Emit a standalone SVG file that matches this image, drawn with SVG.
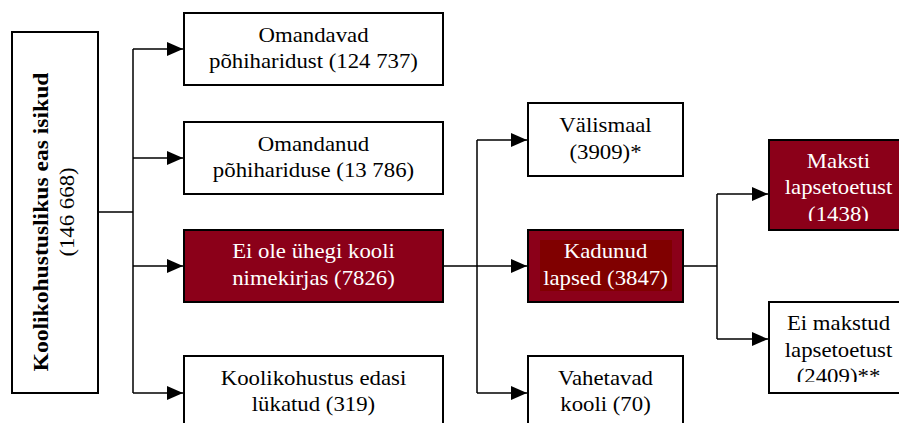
<svg xmlns="http://www.w3.org/2000/svg" width="899" height="423" viewBox="0 0 899 423">
<style>
.box{fill:#ffffff;stroke:#000;stroke-width:2}
.red{fill:#8b0019;stroke:#000;stroke-width:2}
text{font-family:'Liberation Serif','Times New Roman',Times,serif;font-size:20px;text-anchor:middle;fill:#000}
text.w{fill:#ffffff}
text.b{font-weight:bold}
.c{fill:none;stroke:#000;stroke-width:1.5}
</style>
<defs>
<marker id="ah" markerUnits="userSpaceOnUse" markerWidth="17" markerHeight="14" refX="16" refY="7" orient="auto">
<path d="M0,0 L16,7 L0,14 z" fill="#000"/>
</marker>
<clipPath id="clipM"><rect x="769" y="140" width="140" height="81"/></clipPath>
<clipPath id="clipE"><rect x="769" y="302" width="140" height="80"/></clipPath>
</defs>
<rect width="899" height="423" fill="#fff"/>
<g id="connectors">
<path class="c" d="M98,212 H133 M133,49 V393"/>
<path class="c" d="M133,49 H183" marker-end="url(#ah)"/>
<path class="c" d="M133,158 H183" marker-end="url(#ah)"/>
<path class="c" d="M133,266 H183" marker-end="url(#ah)"/>
<path class="c" d="M133,393 H183" marker-end="url(#ah)"/>
<path class="c" d="M443,266 H477 M477,140 V393"/>
<path class="c" d="M477,140 H527" marker-end="url(#ah)"/>
<path class="c" d="M477,266 H527" marker-end="url(#ah)"/>
<path class="c" d="M477,393 H527" marker-end="url(#ah)"/>
<path class="c" d="M683,266 H717 M717,194 V339"/>
<path class="c" d="M717,194 H768" marker-end="url(#ah)"/>
<path class="c" d="M717,339 H768" marker-end="url(#ah)"/>
</g>
<g id="n0">
<rect class="box" x="12" y="32" width="86" height="361"/>
<text class="b" transform="translate(48,222) rotate(-90) scale(1.18,1)">Koolikohustuslikus eas isikud</text>
<text transform="translate(74,212) rotate(-90) scale(1.14,1)">(146 668)</text>
</g>
<g id="n1">
<rect class="box" x="184" y="13" width="259" height="72"/>
<text transform="translate(313.5,42) scale(1.14,1)">Omandavad</text>
<text transform="translate(313.5,68) scale(1.14,1)">põhiharidust (124 737)</text>
</g>
<g id="n2">
<rect class="box" x="184" y="122" width="259" height="72"/>
<text transform="translate(313.5,151) scale(1.14,1)">Omandanud</text>
<text transform="translate(313.5,177) scale(1.14,1)">põhihariduse (13 786)</text>
</g>
<g id="n3">
<rect class="red" x="184" y="230" width="259" height="72"/>
<text class="w" transform="translate(313.5,258) scale(1.14,1)">Ei ole ühegi kooli</text>
<text class="w" transform="translate(313.5,285) scale(1.14,1)">nimekirjas (7826)</text>
</g>
<g id="n4">
<rect class="box" x="184" y="356" width="259" height="80"/>
<text transform="translate(313.5,385) scale(1.14,1)">Koolikohustus edasi</text>
<text transform="translate(313.5,411) scale(1.14,1)">lükatud (319)</text>
</g>
<g id="n5">
<rect class="box" x="528" y="103" width="155" height="73"/>
<text transform="translate(605.5,132) scale(1.14,1)">Välismaal</text>
<text transform="translate(605.5,159) scale(1.14,1)">(3909)*</text>
</g>
<g id="n6">
<rect class="red" x="528" y="230" width="155" height="72"/>
<rect x="540" y="240" width="132" height="51" fill="#800000"/>
<text class="w" transform="translate(605.5,258) scale(1.14,1)">Kadunud</text>
<text class="w" transform="translate(605.5,285) scale(1.14,1)">lapsed (3847)</text>
</g>
<g id="n7">
<rect class="box" x="528" y="356" width="155" height="80"/>
<text transform="translate(605.5,385) scale(1.14,1)">Vahetavad</text>
<text transform="translate(605.5,411) scale(1.14,1)">kooli (70)</text>
</g>
<g id="n8">
<rect class="red" x="769" y="140" width="145" height="90"/>
<g clip-path="url(#clipM)">
<text class="w" transform="translate(838.5,168) scale(1.14,1)">Maksti</text>
<text class="w" transform="translate(838.5,194) scale(1.14,1)">lapsetoetust</text>
<text class="w" transform="translate(838.5,221) scale(1.14,1)">(1438)</text>
</g>
</g>
<g id="n9">
<rect class="box" x="769" y="302" width="145" height="91"/>
<g clip-path="url(#clipE)">
<text transform="translate(838.5,330) scale(1.14,1)">Ei makstud</text>
<text transform="translate(838.5,357) scale(1.14,1)">lapsetoetust</text>
<text transform="translate(838.5,383) scale(1.14,1)">(2409)**</text>
</g>
</g>
</svg>
